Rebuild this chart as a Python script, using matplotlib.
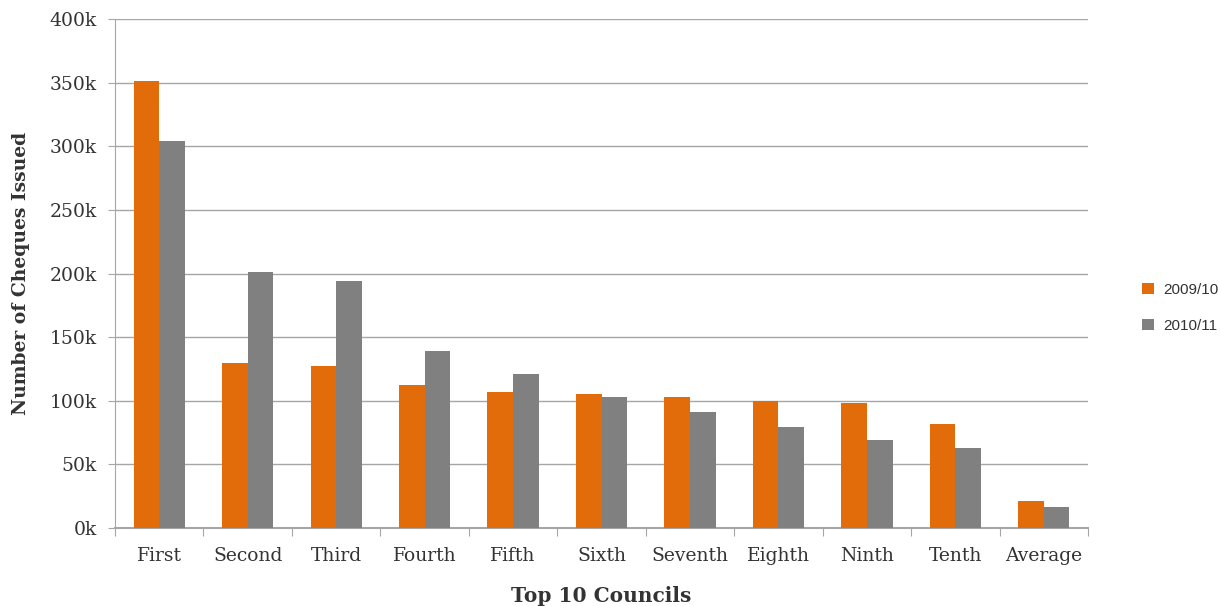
import matplotlib
matplotlib.use('Agg')
import matplotlib.pyplot as plt
import numpy as np
from matplotlib.ticker import FuncFormatter

councils = ['First', 'Second', 'Third', 'Fourth', 'Fifth', 'Sixth',
            'Seventh', 'Eighth', 'Ninth', 'Tenth', 'Average']
cheques_2009 = [351000, 130000, 127000, 112000, 107000, 105000,
                103000, 100000, 98000, 82000, 21000]
cheques_2010 = [304000, 201000, 194000, 139000, 121000, 103000,
                91000, 79000, 69000, 63000, 16500]
series_names = ['2009/10', '2010/11']

orange = '#e36c0a'
grey = '#808080'
line_col = '#a6a6a6'
text_col = '#333333'

fig = plt.figure(figsize=(12.2, 6.06), dpi=100)
ax = fig.add_axes([0.0943, 0.1287, 0.7975, 0.8399])

x = np.arange(len(councils))
w = 0.29
ax.bar(x - w / 2, cheques_2009, width=w, color=orange, label=series_names[0], zorder=3)
ax.bar(x + w / 2, cheques_2010, width=w, color=grey, label=series_names[1], zorder=3)

ax.set_xlim(-0.5, len(councils) - 0.5)
ax.set_ylim(0, 400000)
ax.set_yticks(np.arange(0, 400001, 50000))
ax.yaxis.set_major_formatter(FuncFormatter(lambda v, p: f'{int(v / 1000)}k'))
ax.grid(axis='y', color=line_col, linewidth=1, zorder=0)

# category ticks sit on the boundaries between groups
ax.set_xticks(np.arange(-0.5, len(councils), 1.0))
ax.set_xticklabels([])
ax.set_xticks(x, minor=True)
ax.set_xticklabels(councils, minor=True, family='DejaVu Serif', fontsize=13.5, color=text_col)
ax.tick_params(axis='x', which='minor', length=0, pad=14)
ax.tick_params(axis='x', which='major', length=6, color=line_col)
ax.tick_params(axis='y', length=5, color=line_col, labelsize=13.5, labelcolor=text_col, pad=8)
for lbl in ax.get_yticklabels():
    lbl.set_family('DejaVu Serif')

for side in ['top', 'right']:
    ax.spines[side].set_visible(False)
ax.spines['left'].set_color(line_col)
ax.spines['bottom'].set_color(line_col)
ax.spines['bottom'].set_linewidth(1.5)

ax.set_ylabel('Number of Cheques Issued', family='DejaVu Serif', fontweight='bold',
              fontsize=13.5, color=text_col, labelpad=14)
ax.set_xlabel('Top 10 Councils', family='DejaVu Serif', fontweight='bold',
              fontsize=14.5, color=text_col, labelpad=15)

leg = ax.legend(loc='center left', bbox_to_anchor=(1.056, 0.432), frameon=False,
                prop={'family': 'Liberation Sans', 'size': 11},
                borderpad=0, borderaxespad=0,
                handlelength=0.75, handleheight=0.75, labelspacing=1.45, handletextpad=0.6)
for t in leg.get_texts():
    t.set_color(text_col)

plt.savefig('out.png', dpi=100)
